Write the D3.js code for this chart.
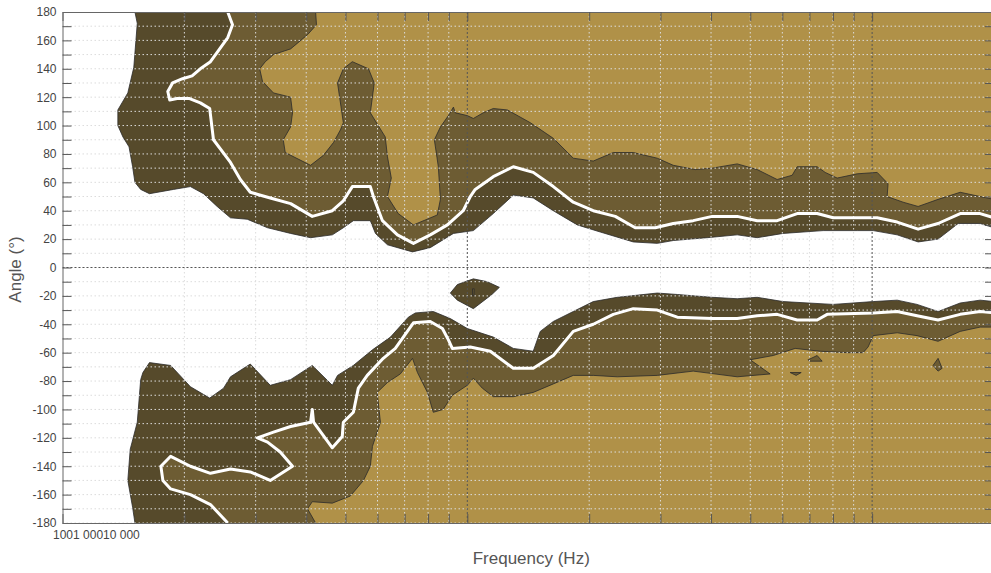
<!DOCTYPE html>
<html>
<head>
<meta charset="utf-8">
<script src="https://cdn.jsdelivr.net/npm/d3@7"></script>
<style>
body { margin: 0; background: #fff; }
svg { display: block; font-family: "Liberation Sans", Arial, sans-serif; }
</style>
</head>
<body>
<script>
// directivity map: contour bands as [frequency Hz, angle deg] pairs

// upper half (0..180)
var upperOuter = [[151,180],[153,172],[150,141],[145,123],[137,111],[137,100],[141,92],[146,85],[149,71],[151,60],[156,55],[164,52],[188,55],[207,57],[223,52],[241,43],[260,35],[286,34],[321,28],[366,24],[410,21],[464,23],[494,28],[523,33],[576,33],[593,24],[635,16],[732,11],[810,14],[924,24],[1035,26],[1159,38],[1299,51],[1455,49],[1631,40],[1869,30],[2130,25],[2570,18],[2946,17],[3227,19],[3914,21],[4642,23],[5201,21],[6026,24],[7568,26],[9184,26],[10060,26],[11530,23],[12990,18],[14550,20],[16310,31],[18480,31],[20000,28]];
var upperMid = [[256,180],[263,171],[256,162],[243,153],[232,145],[219,140],[209,135],[198,133],[187,130],[182,124],[184,118],[192,119],[206,119],[219,116],[231,112],[236,90],[260,74],[275,62],[291,53],[326,49],[366,45],[414,36],[464,40],[494,47],[520,57],[576,57],[586,50],[617,33],[672,23],[736,17],[810,23],[893,30],[977,40],[1017,50],[1046,55],[1159,64],[1299,71],[1455,67],[1631,57],[1827,46],[2047,40],[2320,36],[2599,28],[2913,28],[3227,31],[3614,33],[4027,36],[4642,36],[5201,33],[5826,33],[6528,38],[7314,38],[8011,35],[10290,35],[11530,32],[12990,27],[14550,31],[16500,38],[18480,38],[20000,35]];
var upperInner = [[422,180],[424,171],[403,164],[366,154],[332,150],[317,145],[307,140],[312,131],[332,123],[366,120],[370,109],[366,99],[351,90],[355,81],[410,72],[441,79],[467,88],[486,97],[494,102],[478,130],[494,140],[520,145],[570,140],[589,130],[576,109],[627,92],[635,78],[649,63],[635,50],[675,38],[736,30],[843,37],[858,48],[848,71],[829,90],[858,99],[898,107],[924,113],[934,109],[1000,107],[1035,105],[1095,109],[1159,112],[1256,111],[1431,102],[1631,91],[1827,77],[2047,75],[2294,81],[2570,81],[2946,77],[3227,72],[3656,69],[4027,70],[4642,73],[5201,69],[5826,62],[6346,65],[6528,71],[7314,71],[7656,67],[8195,63],[9184,66],[10290,67],[10950,59],[10890,50],[11930,46],[12990,43],[14550,48],[16500,53],[18480,50],[20000,48]];

// lower half (-180..0)
var lowerOuter = [[151,-180],[149,-169],[145,-150],[147,-128],[153,-109],[156,-79],[158,-74],[164,-67],[185,-69],[207,-84],[231,-92],[250,-85],[260,-77],[291,-68],[326,-83],[366,-79],[414,-69],[464,-83],[478,-76],[523,-69],[583,-58],[646,-49],[715,-35],[744,-32],[824,-31],[908,-36],[1000,-43],[1159,-49],[1299,-57],[1455,-59],[1514,-45],[1631,-38],[1827,-31],[2047,-24],[2346,-21],[2946,-18],[3301,-19],[4027,-21],[4642,-22],[5201,-21],[6026,-24],[8011,-26],[10060,-24],[11530,-23],[12910,-26],[14550,-31],[16500,-25],[18480,-23],[20000,-24]];
var lowerMid = [[256,-180],[232,-167],[207,-160],[185,-156],[177,-150],[175,-140],[185,-133],[207,-140],[232,-145],[260,-142],[291,-144],[326,-150],[370,-140],[345,-130],[321,-123],[303,-120],[332,-116],[366,-112],[410,-109],[414,-100],[417,-109],[464,-127],[491,-119],[494,-109],[523,-102],[538,-85],[566,-76],[620,-64],[664,-57],[711,-45],[736,-39],[810,-38],[868,-43],[898,-51],[918,-57],[1017,-56],[1140,-59],[1299,-71],[1455,-71],[1631,-62],[1827,-45],[2047,-40],[2294,-33],[2570,-29],[2946,-30],[3301,-35],[4027,-36],[4642,-36],[5201,-34],[5826,-33],[6528,-37],[7314,-37],[7743,-33],[10060,-32],[11530,-31],[12910,-34],[14550,-37],[16500,-33],[18480,-31],[20000,-32]];
var lowerInner = [[422,-180],[403,-170],[414,-165],[464,-166],[514,-161],[554,-150],[576,-140],[583,-126],[610,-109],[599,-88],[635,-81],[683,-75],[732,-64],[753,-74],[797,-88],[824,-102],[872,-100],[918,-90],[1000,-83],[1035,-78],[1089,-85],[1159,-91],[1299,-91],[1455,-88],[1631,-82],[1827,-76],[2047,-76],[2346,-77],[2946,-76],[3614,-73],[4642,-77],[5598,-75],[4999,-65],[5696,-62],[6454,-57],[7440,-59],[8674,-60],[9500,-60],[9772,-56],[10060,-48],[11530,-46],[12910,-48],[14550,-52],[16500,-45],[18480,-42],[20000,-42]];

// small closed islands
var darkIslands = [[[908,-18],[945,-12],[1035,-8],[1120,-10],[1200,-14],[1150,-19],[1035,-29],[945,-23]]];
var midIslands = [
	[[1030,-15],[1040,-15],[1038,-20],[1031,-20]],
	[[6950,-65],[7314,-62],[7525,-66],[7000,-66]],
	[[6273,-74],[6679,-74],[6490,-76]],
	[[14550,-64],[14890,-71],[14550,-73],[14140,-69]]
];

var freqDomain = [100, 20000];
var angleDomain = [-180, 180];
var freqLabels = [100, 1000, 10000];
var freqMinor = [200,300,400,500,600,700,800,900,1000,2000,3000,4000,5000,6000,7000,8000,9000,10000];
var freqMajor = [1000, 10000];
var angleTicks = d3.range(-180, 181, 10);

var colDark = "#564a2b", colMid = "#6d5c33", colGold = "#b09148";

var margin = {top: 12, right: 0, bottom: 50, left: 62.5};
var width = 931.5;
var height = 511;

var svg = d3.select("body").append("svg")
	.attr("width", 991)
	.attr("height", 573);

var g = svg.append("g")
	.attr("transform", "translate(" + margin.left + "," + margin.top + ")");

var x = d3.scaleLog().domain(freqDomain).range([0, width]);
var y = d3.scaleLinear().domain(angleDomain).range([height, 0]);

g.append("clipPath").attr("id", "plotclip")
	.append("rect").attr("width", width).attr("height", height);

var plot = g.append("g").attr("clip-path", "url(#plotclip)");

var line = d3.line().x(function(d){ return x(d[0]); }).y(function(d){ return y(d[1]); });

function band(pts, edge) {
	return line(pts.concat([[freqDomain[1], edge]])) + "Z";
}

// fills
plot.append("path").attr("d", band(upperOuter, 180)).attr("fill", colDark);
plot.append("path").attr("d", band(lowerOuter, -180)).attr("fill", colDark);
plot.selectAll(".dark-island").data(darkIslands).enter().append("path")
	.attr("d", function(d){ return line(d) + "Z"; })
	.attr("fill", colDark).attr("stroke", "#2b2b2b").attr("stroke-width", 0.8);
plot.append("path").attr("d", band(upperMid, 180)).attr("fill", colMid);
plot.append("path").attr("d", band(lowerMid, -180)).attr("fill", colMid);
plot.append("path").attr("d", band(upperInner, 180)).attr("fill", colGold);
plot.append("path").attr("d", band(lowerInner, -180)).attr("fill", colGold);
plot.selectAll(".mid-island").data(midIslands).enter().append("path")
	.attr("d", function(d){ return line(d) + "Z"; })
	.attr("fill", colMid).attr("stroke", "#2b2b2b").attr("stroke-width", 0.8);

// contour edges
[upperOuter, lowerOuter, upperInner, lowerInner].forEach(function(c){
	plot.append("path").attr("d", line(c))
		.attr("fill", "none").attr("stroke", "#2b2b2b").attr("stroke-width", 0.8);
});

// grid
plot.selectAll(".hgrid").data(angleTicks).enter().append("line")
	.attr("x1", 0).attr("x2", width)
	.attr("y1", function(d){ return y(d); }).attr("y2", function(d){ return y(d); })
	.attr("stroke", "#dcdcdc").attr("stroke-width", 1).attr("stroke-dasharray", "1.5,2.5");
plot.selectAll(".vgrid").data(freqMinor.filter(function(f){ return freqMajor.indexOf(f) < 0; })).enter().append("line")
	.attr("x1", function(d){ return x(d); }).attr("x2", function(d){ return x(d); })
	.attr("y1", 0).attr("y2", height)
	.attr("stroke", "#dcdcdc").attr("stroke-width", 1).attr("stroke-dasharray", "1.5,2.5");

// white contour
[upperMid, lowerMid].forEach(function(c){
	plot.append("path").attr("d", line(c))
		.attr("fill", "none").attr("stroke", "#fff").attr("stroke-width", 3)
		.attr("stroke-linejoin", "round");
});

// major grid
plot.append("line").attr("x1", 0).attr("x2", width).attr("y1", y(0)).attr("y2", y(0))
	.attr("stroke", "#555").attr("stroke-dasharray", "2,2");
plot.selectAll(".mgrid").data(freqMajor).enter().append("line")
	.attr("x1", function(d){ return x(d); }).attr("x2", function(d){ return x(d); })
	.attr("y1", 0).attr("y2", height)
	.attr("stroke", "#555").attr("stroke-dasharray", "2,2");

// axes
var tickCol = "#555";
var leftAxis = d3.axisLeft(y).tickValues(angleTicks).tickSize(-9).tickPadding(6)
	.tickFormat(function(d){ return d % 20 === 0 ? String(d) : ""; });
var la = g.append("g").call(leftAxis);
var ra = g.append("g").attr("transform", "translate(" + width + ",0)")
	.call(d3.axisRight(y).tickValues(angleTicks).tickSize(-9).tickFormat(""));
var ta = g.append("g").call(d3.axisTop(x).tickValues(freqMinor).tickSize(-9).tickFormat(""));
var ba = g.append("g").attr("transform", "translate(0," + height + ")")
	.call(d3.axisBottom(x).tickValues(freqMinor).tickSize(-9).tickFormat(""));
[la, ra, ta, ba].forEach(function(a){
	a.selectAll("path").attr("stroke", "#666");
	a.selectAll("line").attr("stroke", tickCol);
	a.selectAll("text").attr("fill", "#444").attr("font-size", "12px")
		.attr("font-family", "Liberation Sans, Arial, sans-serif");
});

// frequency labels (squeezed together at the left like the original)
var lab = g.append("g").attr("transform", "translate(0," + height + ")")
	.call(d3.axisBottom(x).tickValues(freqLabels).tickSize(0).tickPadding(7)
		.tickFormat(function(d){ return d3.format(",")(d).replace(/,/g, " "); }));
lab.select(".domain").remove();
var labTexts = lab.selectAll("text").attr("fill", "#444").attr("font-size", "12px")
	.attr("font-family", "Liberation Sans, Arial, sans-serif").attr("text-anchor", "start");
var cursor = null;
labTexts.each(function(d){
	var w = this.getComputedTextLength();
	if (cursor === null) cursor = x(d) - w / 2;
	d3.select(this).attr("x", cursor - x(d));
	cursor += w;
});

g.append("text")
	.attr("x", width / 2 + 3)
	.attr("y", height + 41)
	.attr("text-anchor", "middle")
	.attr("font-size", "17px")
	.attr("fill", "#555")
	.text("Frequency (Hz)");

g.append("text")
	.attr("x", -(y(0) + 2))
	.attr("y", -42)
	.attr("text-anchor", "middle")
	.attr("transform", "rotate(-90)")
	.attr("font-size", "17px")
	.attr("fill", "#555")
	.text("Angle (°)");
</script>
</body>
</html>
